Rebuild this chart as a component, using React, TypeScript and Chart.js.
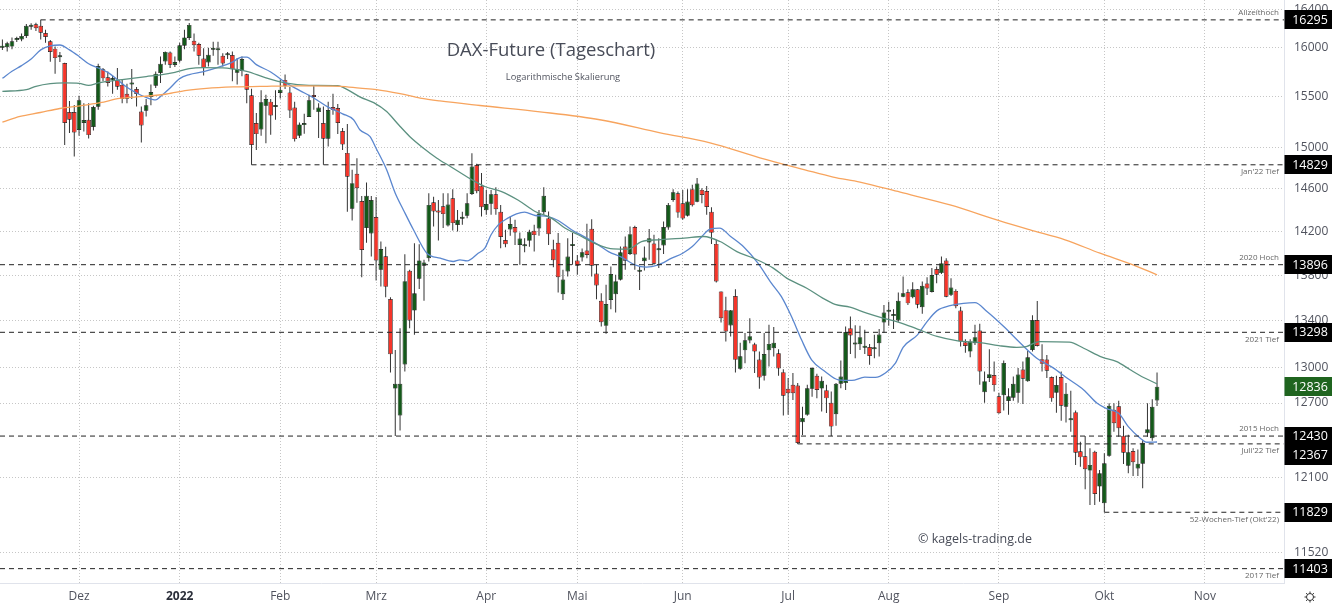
import React, { useEffect, useRef } from "react";
import { Chart, registerables } from "chart.js";

Chart.register(...registerables);

const opens = [
  16003,16007,16014,16082,16089,16126,16222,16248,16232,16156,
  16069,15993,15903,15844,15346,15346,15168,15237,15270,15198,
  15399,15779,15697,15669,15671,15620,15531,15625,15579,15352,
  15359,15497,15612,15742,15860,15952,15824,15867,16024,16105,
  16075,16041,15891,15850,15982,15977,15919,15924,15926,15745,
  15762,15728,15514,15237,15174,15409,15451,15397,15538,15671,
  15544,15392,15112,15217,15297,15514,15346,15237,15082,15396,
  15386,15158,14944,14412,14743,14484,14231,14181,14333,13850,
  13973,13589,12820,12597,13022,13841,13487,13769,13886,13955,
  14472,14391,14435,14255,14509,14259,14317,14345,14551,14826,
  14627,14398,14459,14548,14382,14120,14218,14240,14076,14064,
  14113,14206,14227,14379,14323,14037,14095,13631,13835,14067,
  13934,13961,14024,14224,13817,13574,13354,13580,13631,13760,
  14061,13994,14240,13832,13928,14098,14088,14027,14070,14236,
  14493,14557,14463,14345,14596,14477,14589,14579,14382,14085,
  13655,13491,13357,13616,12986,13143,13227,13196,13064,12927,
  13143,13161,13118,12958,12818,12851,12845,12543,12603,12818,
  12927,12820,12807,12703,12608,12860,12866,13334,13193,13196,
  13166,13172,13152,13204,13383,13476,13439,13400,13610,13649,
  13604,13676,13517,13727,13652,13856,13820,13934,13628,13661,
  13487,13213,13132,13204,13313,12790,12908,12933,12756,12765,
  12717,12744,12786,12980,12882,13146,13404,13068,13064,12916,
  12786,12916,12670,12558,12625,12307,12267,12154,12304,12028,
  11898,12272,12644,12674,12433,12193,12309,12170,12209,12453,
  12413,12722,
];
const closes = [
  16021,16048,16069,16095,16126,16232,16232,16207,16160,16115,
  15959,15895,15913,15237,15270,15144,15465,15267,15118,15396,
  15813,15687,15640,15679,15602,15477,15480,15637,15528,15214,
  15415,15548,15735,15837,15959,15827,15854,16028,16110,16242,
  16028,15919,15793,15929,15992,15990,15840,15934,15779,15783,
  15885,15572,15022,15128,15445,15477,15313,15407,15572,15612,
  15362,15079,15224,15227,15465,15497,15392,15082,15366,15366,
  15237,15025,14714,14653,14605,14030,14534,14493,13934,14039,
  13697,13110,12860,12860,13748,13400,13640,13935,13916,14447,
  14385,14375,14361,14450,14277,14308,14326,14462,14813,14577,
  14425,14456,14548,14407,14148,14083,14268,14190,14135,14076,
  14197,14166,14366,14534,14175,13937,13784,13763,13970,14083,
  13886,14009,13985,13886,13709,13386,13545,13811,13748,14009,
  13931,14175,13988,13841,13961,14138,13904,14033,14240,14447,
  14567,14375,14320,14479,14444,14649,14541,14428,14187,13745,
  13421,13305,13491,13062,13093,13230,13265,13132,12913,13112,
  13198,13209,12989,12761,12781,12781,12375,12578,12823,12992,
  12809,12885,12739,12507,12860,12921,13300,13270,13202,13256,
  13181,13095,13161,13279,13470,13491,13448,13574,13640,13551,
  13676,13539,13706,13682,13802,13805,13910,13610,13691,13525,
  13218,13181,13218,13256,12963,12882,12941,12849,12616,13036,
  12756,12860,12938,12902,13084,13404,13181,13028,12969,12739,
  12849,12678,12778,12566,12296,12259,12165,12199,11970,12133,
  12212,12678,12535,12494,12296,12299,12220,12209,12377,12486,
  12670,12836,
];
const highs = [
  16089,16065,16110,16116,16150,16252,16258,16265,16295,16191,
  16082,16014,15959,15847,15458,15418,15511,15435,15435,15409,
  15837,15793,15758,15715,15793,15674,15633,15783,15599,15402,
  15477,15623,15756,15911,15963,15963,15911,16054,16191,16262,
  16150,16054,15997,16003,16065,16065,15946,15959,15963,15895,
  15911,15735,15582,15336,15565,15521,15477,15565,15674,15725,
  15599,15451,15243,15329,15521,15613,15435,15402,15451,15531,
  15428,15188,15227,14781,14893,14531,14659,14531,14522,14107,
  14060,13604,13146,13334,13991,13850,14092,14083,13940,14557,
  14525,14493,14557,14557,14596,14400,14382,14557,14941,14838,
  14749,14589,14589,14615,14447,14215,14338,14308,14190,14138,
  14215,14261,14400,14615,14385,14123,14185,13850,14138,14185,
  13985,14042,14271,14314,13895,13640,13715,13880,13805,14061,
  14153,14246,14252,13880,14061,14222,14169,14138,14292,14465,
  14596,14573,14589,14596,14637,14701,14605,14627,14425,14123,
  13655,13610,13493,13676,13209,13291,13421,13209,13132,13291,
  13363,13343,13152,12983,12908,12950,12866,12670,12851,13000,
  12944,12921,12851,12795,12866,13056,13348,13435,13360,13354,
  13320,13198,13276,13326,13537,13565,13499,13646,13790,13676,
  13739,13676,13745,13784,13865,13880,13970,13955,13775,13676,
  13522,13239,13239,13363,13372,12963,13152,13047,12786,13056,
  12823,12921,12992,13047,13138,13447,13571,13195,13104,12921,
  12927,12963,12866,12801,12638,12385,12431,12331,12312,12159,
  12291,12698,12698,12719,12513,12440,12331,12322,12399,12698,
  12731,12955,
];
const lows = [
  15980,15963,15987,16062,16069,16105,16191,16177,16089,16054,
  15857,15735,15854,15022,15138,14909,15112,15154,15085,15164,
  15369,15656,15605,15531,15572,15435,15435,15477,15402,15045,
  15303,15415,15589,15640,15827,15793,15803,15850,15987,16082,
  15963,15827,15715,15809,15919,15827,15809,15885,15656,15623,
  15707,15435,14829,14973,15112,15039,15122,15270,15483,15579,
  15287,15055,15089,15131,15297,15369,15089,14829,15006,15320,
  15128,14973,14382,14301,14468,13784,14095,13970,13754,13700,
  13604,12955,12430,12475,12963,13334,13276,13679,13574,13925,
  14246,14116,14231,14246,14209,14200,14261,14323,14541,14557,
  14338,14354,14354,14354,14046,14055,14160,14076,13895,14009,
  14060,14015,14160,14354,14076,13874,13646,13580,13790,13895,
  13805,13925,13955,13790,13586,13348,13285,13499,13470,13754,
  13850,13985,13850,13670,13844,13940,13895,13865,13994,14215,
  14477,14326,14308,14338,14431,14472,14462,14354,14085,13736,
  13383,13218,13261,12955,12978,13034,13204,12950,12818,12888,
  13005,13090,12927,12597,12603,12725,12367,12439,12595,12753,
  12739,12630,12617,12430,12513,12823,12809,13112,13076,13146,
  13112,13020,13076,13090,13294,13354,13326,13389,13604,13537,
  13595,13508,13459,13625,13646,13730,13811,13604,13616,13508,
  13175,13123,13085,13189,12851,12703,12874,12795,12611,12638,
  12603,12719,12703,12692,12877,13132,13175,12963,12908,12711,
  12621,12554,12540,12466,12199,12185,12007,11885,11885,11910,
  11829,12264,12466,12425,12207,12133,12112,12112,12015,12425,
  12393,12676,
];

// Moving averages, read at the trading-day positions listed beside them
const sma20Days = [0,2,4,6,8,10,12,14,16,18,20,22,24,26,28,30,32,33,35,37,39,42,45,48,50,51,53,56,59,62,65,68,71,73.3,74.6,76.7,78.1,80.2,82,83.7,85.8,88.6,91.4,94.1,95.5,97,99.3,100.7,102,103.5,105.5,107.3,109,111.2,113.9,116,118.8,121.6,124.4,126.5,129.2,132,134.4,136.9,139.7,142,144,146,147.7,149.7,152,154.8,157.7,160.5,162.6,164.7,166.8,168.9,171.7,174.5,177.3,180,182.2,184.3,186.4,188,191,193,195.1,197.8,200.6,203,205.5,209,212.5,215.9,219.4,222.2,225.7,228.5,230.5,233,235,237.5,238.9,241];
const sma20Values = [15687,15759,15817,15885,15980,16021,16031,15980,15912,15837,15793,15748,15674,15596,15538,15493,15468,15503,15589,15684,15725,15755,15799,15854,15905,15905,15827,15752,15646,15565,15487,15396,15329,15270,15171,15105,14980,14781,14557,14400,14215,14000,13955,13925,13940,13931,14000,14046,14169,14261,14323,14363,14379,14348,14338,14301,14215,14148,14076,14015,13964,13895,13874,13895,13955,14000,14061,14153,14222,14231,14153,14055,13910,13730,13610,13435,13233,13062,12963,12893,12888,12916,12913,12950,13034,13169,13276,13391,13487,13530,13551,13557,13479,13348,13204,13076,12992,12908,12809,12698,12654,12616,12507,12413,12380,12382];
const sma50Days = [0,5,7,10,13,16,18,20,25,30,33,36,39,42,46,48,51,55,59,64,70,72,74.7,77.5,80.2,82.7,85,87.9,90.7,93.5,97.8,100.7,104.2,107.6,111.2,114.6,117.4,120.2,124.4,127.5,130.6,133.4,136.9,142.3,146.4,149.8,153.3,156.8,160.9,163.7,167.9,171.3,173.8,176.9,180.4,183.8,187.3,191,195.1,199.4,204,208,211.7,213.7,216.4,222.7,225.7,229.5,232.6,235.4,238.2,241];
const sma50Values = [15555,15572,15606,15633,15640,15636,15616,15640,15674,15705,15722,15748,15786,15796,15793,15783,15758,15691,15640,15616,15612,15572,15497,15441,15352,15220,15105,14990,14893,14813,14691,14621,14573,14493,14385,14323,14231,14169,14076,14039,14037,14107,14123,14138,14153,14107,14015,13955,13865,13775,13685,13595,13542,13517,13464,13421,13383,13326,13262,13224,13209,13183,13169,13175,13218,13213,13161,13085,13047,12978,12913,12860];
const sma200Days = [0,3.7,7.9,12,16.2,20.4,24.5,29.4,34.3,38.5,42.6,48.2,55.2,62.1,70.5,74.6,78.1,83,87.2,91.3,99.7,112.2,124.7,137.3,147.7,158.1,167.5,173.4,179,187.4,197.8,208.2,214.5,221.8,229.1,236,241];
const sma200Values = [15247,15303,15342,15382,15409,15441,15483,15503,15528,15565,15585,15599,15606,15610,15606,15587,15572,15531,15487,15458,15412,15349,15270,15141,15042,14897,14781,14711,14663,14567,14447,14298,14215,14123,14000,13895,13805];

const dayCount = 268;
const monthDays = [16,37,58,78,101,120,142,164,185,208,230,251];
const monthLabels = ["Dez","2022","Feb","Mrz","Apr","Mai","Jun","Jul","Aug","Sep","Okt","Nov"];
const priceTicks = [11520,12100,12700,13000,13400,13800,14200,14600,15000,15500,16000,16400];

const levelValues = [16295,14829,13896,13298,12430,12367,11829,11403];
const levelStartDays = [8,52,-0.5,-0.5,-0.5,166,230,-0.5];
const levelNotes = ["Allzeithoch","Jan'22 Tief","2020 Hoch","2021 Tief","2015 Hoch","Juli'22 Tief","52-Wochen-Tief (Okt'22)","2017 Tief"];
const levelNoteAbove = [true,false,true,false,true,false,false,false];
const lastPrice = 12836;

const chartTitle = "DAX-Future (Tageschart)";
const chartSubtitle = "Logarithmische Skalierung";
const copyrightNote = "© kagels-trading.de";

const FONT = '"Open Sans", sans-serif';
const TEXT = "#50535e";
const UP = "#14591a";
const DOWN = "#f5352a";

const overlayPlugin = {
  id: "overlay",
  afterDraw(chart: any) {
    const { ctx, scales, chartArea } = chart;
    const yScale = scales.y;
    ctx.save();

    ctx.textBaseline = "middle";
    ctx.textAlign = "center";
    ctx.fillStyle = "#484c58";
    ctx.font = `18.5px ${FONT}`;
    ctx.fillText(chartTitle, 551, 51);
    ctx.font = `9.3px ${FONT}`;
    ctx.fillStyle = "#50535e";
    ctx.fillText(chartSubtitle, 563, 77);
    ctx.font = `12.5px ${FONT}`;
    ctx.fillStyle = "#484c58";
    ctx.fillText(copyrightNote, 975, 539);

    ctx.textAlign = "right";
    ctx.font = `8px ${FONT}`;
    ctx.fillStyle = "#666";
    levelValues.forEach((v, i) => {
      const y = yScale.getPixelForValue(v);
      const shift = levelNoteAbove[i] ? -7 : 7;
      ctx.fillText(levelNotes[i], chartArea.right - 5, y + shift);
    });

    const boxes = levelValues.map((v) => ({ v, fill: "#000" }));
    boxes.push({ v: lastPrice, fill: "#1f641f" });
    boxes.sort((a, b) => b.v - a.v);
    let prev = -100;
    ctx.font = `12.5px ${FONT}`;
    ctx.textAlign = "center";
    boxes.forEach((b) => {
      let y = yScale.getPixelForValue(b.v);
      if (y < prev + 19) y = prev + 19;
      prev = y;
      ctx.fillStyle = b.fill;
      ctx.fillRect(chartArea.right + 0.5, Math.round(y - 9.5), 48, 19);
      ctx.fillStyle = "#fff";
      ctx.fillText(String(b.v), chartArea.right + 26, y + 0.5);
    });

    const gx = 1310, gy = 597;
    ctx.strokeStyle = "#333";
    ctx.lineWidth = 1;
    ctx.beginPath();
    ctx.arc(gx, gy, 3.5, 0, Math.PI * 2);
    ctx.stroke();
    for (let k = 0; k < 8; k++) {
      const a = (k * Math.PI) / 4;
      ctx.beginPath();
      ctx.moveTo(gx + Math.cos(a) * 3.5, gy + Math.sin(a) * 3.5);
      ctx.lineTo(gx + Math.cos(a) * 5.5, gy + Math.sin(a) * 5.5);
      ctx.stroke();
    }
    ctx.restore();
  },
};

const smaLine = (days: number[], values: number[], color: string) => ({
  type: "line" as const,
  data: days.map((d, i) => ({ x: d, y: values[i] })),
  borderColor: color,
  borderWidth: 1.3,
  pointRadius: 0,
  cubicInterpolationMode: "monotone" as const,
  order: 2,
});

export default function App() {
  const ref = useRef<HTMLCanvasElement>(null);
  useEffect(() => {
    const dayIdx = opens.map((_, i) => i);
    const chart = new Chart(ref.current as any, {
      type: "bar",
      data: {
        datasets: [
          {
            data: dayIdx.map((i) => ({ x: i, y: [lows[i], highs[i]] })),
            backgroundColor: "#333",
            borderWidth: 0,
            barThickness: 1,
            inflateAmount: 0,
            grouped: false,
            order: 5,
          },
          {
            data: dayIdx.map((i) => ({ x: i, y: [Math.min(opens[i], closes[i]), Math.max(opens[i], closes[i])] })),
            backgroundColor: dayIdx.map((i) => (closes[i] >= opens[i] ? UP : DOWN)),
            borderColor: "#111",
            borderWidth: 0.7,
            borderSkipped: false,
            barThickness: 4.6,
            inflateAmount: 0,
            minBarLength: 2,
            grouped: false,
            order: 4,
          },
          smaLine(sma200Days, sma200Values, "#f7a45e"),
          smaLine(sma50Days, sma50Values, "#5c9180"),
          smaLine(sma20Days, sma20Values, "#5b87cf"),
          ...levelValues.map((v, i) => ({
            type: "line" as const,
            data: [
              { x: levelStartDays[i], y: v },
              { x: dayCount - 0.5, y: v },
            ],
            borderColor: "#222",
            borderWidth: 1,
            borderDash: [5, 4],
            pointRadius: 0,
            tension: 0,
            order: 1,
          })),
        ],
      } as any,
      options: {
        responsive: false,
        animation: false,
        events: [],
        layout: { padding: 0 },
        plugins: { legend: { display: false }, tooltip: { enabled: false }, title: { display: false } },
        scales: {
          x: {
            type: "linear",
            bounds: "data",
            offset: false,
            min: -0.5,
            max: dayCount - 0.5,
            afterBuildTicks: (s: any) => {
              s.ticks = monthDays.map((value) => ({ value }));
            },
            afterFit: (s: any) => {
              s.height = 26;
              s.paddingLeft = 0;
              s.paddingRight = 0;
            },
            grid: { color: "#c6c6c6", offset: false, drawTicks: false },
            border: { color: "#e0e3eb", dash: [1, 2] },
            ticks: {
              autoSkip: false,
              maxRotation: 0,
              padding: 6,
              color: (c: any) => (c.tick && c.tick.value === monthDays[1] ? "#2a2e39" : TEXT),
              font: (c: any) => ({
                family: FONT,
                size: 12,
                weight: c.tick && c.tick.value === monthDays[1] ? "bold" : "normal",
              }),
              callback: (v: any) => {
                const k = monthDays.indexOf(Number(v));
                return k >= 0 ? monthLabels[k] : "";
              },
            },
          },
          y: {
            type: "logarithmic",
            position: "right",
            bounds: "data",
            min: 11297,
            max: 16507,
            afterBuildTicks: (s: any) => {
              s.ticks = priceTicks.map((value) => ({ value }));
            },
            afterFit: (s: any) => {
              s.width = 48;
              s.paddingTop = 0;
              s.paddingBottom = 0;
            },
            grid: { color: "#c6c6c6", drawTicks: false },
            border: { color: "#e0e3eb", dash: [1, 2] },
            ticks: {
              autoSkip: false,
              padding: 10,
              color: TEXT,
              font: { family: FONT, size: 12 },
              callback: (v: any) => String(v),
            },
          },
        },
      } as any,
      plugins: [overlayPlugin],
    });
    return () => chart.destroy();
  }, []);
  return (
    <div style={{ position: "absolute", left: 0, top: 0, width: 1332, height: 609, background: "#fff" }}>
      <canvas ref={ref} width={1332} height={609} style={{ display: "block" }} />
    </div>
  );
}
